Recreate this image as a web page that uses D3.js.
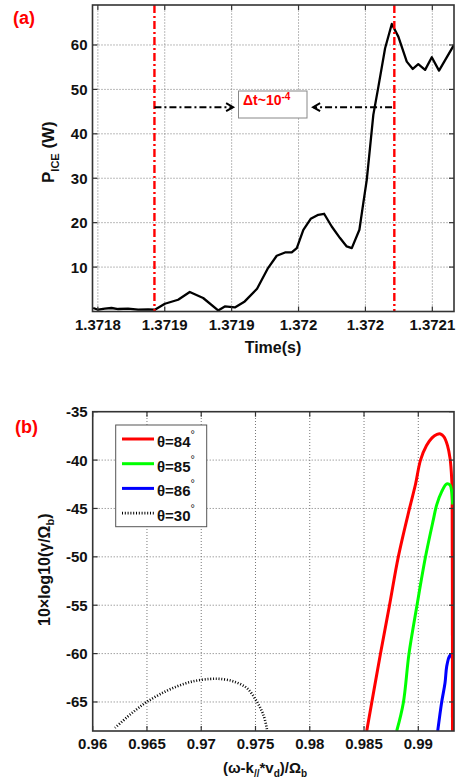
<!DOCTYPE html>
<html><head><meta charset="utf-8">
<script src="https://cdn.jsdelivr.net/npm/d3@7/dist/d3.min.js"></script>
<style>
body{margin:0;background:#fff;}
svg text{font-family:Arial,"Liberation Sans",sans-serif;font-weight:bold;}
</style></head>
<body><svg id="c" width="462" height="782"></svg>
<script>
// ---------- Panel (a) data ----------
const timeA = [1.3717965,1.3718002,1.3718052,1.3718102,1.3718152,1.3718226,1.3718301,1.3718376,1.3718426,
 1.3718501,1.3718600,1.3718687,1.3718787,1.3718899,1.3718949,1.3719024,1.3719098,1.3719190,1.3719272,
 1.3719337,1.3719399,1.3719449,1.3719487,1.3719536,1.3719591,1.3719648,1.3719691,1.3719748,1.3719810,
 1.3719860,1.3719898,1.3719955,1.3719984,1.3720010,1.3720059,1.3720097,1.3720147,1.3720197,1.3720246,
 1.3720309,1.3720354,1.3720395,1.3720446,1.3720496,1.3720550,1.3720662];
const powerA = [0.79,0.40,0.63,0.79,0.56,0.63,0.40,0.47,0.40,
 1.75,2.65,4.39,3.04,0.25,1.15,0.92,2.27,5.13,9.78,
 12.55,13.29,13.29,14.28,18.40,20.87,21.77,22.0,19.14,16.53,
 14.64,14.28,18.40,24.40,29.64,44.26,50.63,59.27,64.73,61.88,
 56.25,54.61,55.67,54.39,57.24,54.23,60.01];
const markerTimes = [1.3718423, 1.3720216];
const arrowY = 46;
const arrowLeft = [1.3718423, 1.3719011];
const arrowRight = [1.3720199, 1.3719609];
const xTicksA = [1.37180,1.37185,1.37190,1.37195,1.37200,1.37205];
const xTickLabelsA = ["1.3718","1.3719","1.3719","1.372","1.372","1.3721"];
const yTicksA = [10,20,30,40,50,60];

// ---------- Panel (b) data ----------
const x84 = [0.985247,0.986518,0.987348,0.988158,0.98919,0.989743,0.990204,0.990757,0.991263,0.991724,0.992047,0.992369,0.992692,0.992922,0.993078,0.993134,0.99315];
const y84 = [-68,-60,-55,-50,-45,-42.5,-40,-38.5,-37.7,-37.35,-37.3,-37.6,-38.5,-39.8,-41.9,-44.6,-68];
const x85 = [0.988011,0.988619,0.989144,0.989881,0.990664,0.991383,0.991696,0.992157,0.992618,0.992922,0.993078,0.99317,0.99324,0.99338];
const y85 = [-68,-65.1,-60,-55,-50,-46.18,-44.63,-43.26,-42.46,-42.57,-43.26,-44.63,-47.2,-54.4];
const x86 = [0.991789,0.992157,0.992461,0.992618,0.992857,0.993014,0.99316,0.99335];
const y86 = [-68,-65,-63.04,-61.32,-60.29,-60.12,-60.63,-66];
const x30 = [0.962055,0.963133,0.964054,0.964976,0.966201,0.96774,0.969269,0.970808,0.97173,0.972955,0.97419,0.975111,0.975719,0.976032,0.97606];
const y30 = [-67.68,-66.6,-65.75,-65,-64.2,-63.4,-62.86,-62.62,-62.62,-62.87,-63.55,-64.94,-66.31,-67.68,-68];
const xTicksB = [0.96,0.965,0.97,0.975,0.98,0.985,0.99];
const xTickLabelsB = ["0.96","0.965","0.97","0.975","0.98","0.985","0.99"];
const yTicksB = [-35,-40,-45,-50,-55,-60,-65];
const legendLabels = ["84","85","86","30"];
const seriesColors = ["#ff0000","#00ff00","#0000ff","#000000"];

const svg = d3.select("#c");
const AX = "#333";

function frame(g, x, y, yGrid, xGrid) {
  const [x0,x1] = x.range(), [y0,y1] = y.range();
  g.selectAll(".gx").data(xGrid).enter().append("line")
    .attr("x1",d=>x(d)).attr("x2",d=>x(d)).attr("y1",y0).attr("y2",y1)
    .attr("stroke","#777").attr("stroke-width",1).attr("stroke-dasharray","1,2");
  g.selectAll(".gy").data(yGrid).enter().append("line")
    .attr("y1",d=>y(d)).attr("y2",d=>y(d)).attr("x1",x0).attr("x2",x1)
    .attr("stroke","#777").attr("stroke-width",1).attr("stroke-dasharray","1,2");
}
function border(g, x, y, xt, xtl, yt) {
  const [x0,x1] = x.range(), [y0,y1] = y.range();
  const tl = 5;
  xt.forEach(d=>{
    g.append("line").attr("x1",x(d)).attr("x2",x(d)).attr("y1",y0).attr("y2",y0-tl).attr("stroke",AX).attr("stroke-width",1.2);
    g.append("line").attr("x1",x(d)).attr("x2",x(d)).attr("y1",y1).attr("y2",y1+tl).attr("stroke",AX).attr("stroke-width",1.2);
  });
  yt.forEach(d=>{
    g.append("line").attr("y1",y(d)).attr("y2",y(d)).attr("x1",x0).attr("x2",x0+tl).attr("stroke",AX).attr("stroke-width",1.2);
    g.append("line").attr("y1",y(d)).attr("y2",y(d)).attr("x1",x1).attr("x2",x1-tl).attr("stroke",AX).attr("stroke-width",1.2);
  });
  g.append("rect").attr("x",x0).attr("y",y1).attr("width",x1-x0).attr("height",y0-y1)
    .attr("fill","none").attr("stroke",AX).attr("stroke-width",1.6);
  xt.forEach((d,i)=>{
    g.append("text").attr("x",x(d)).attr("y",y0+18).attr("text-anchor","middle")
      .attr("font-size",15).attr("fill","#111").text(xtl[i]);
  });
  yt.forEach(d=>{
    g.append("text").attr("x",x0-5).attr("y",y(d)+5.5).attr("text-anchor","end")
      .attr("font-size",15).attr("fill","#111").text(d);
  });
}

// ---------- Panel (a) ----------
const xA = d3.scaleLinear().domain([1.371796, 1.3720662]).range([92.5, 454]);
const yA = d3.scaleLinear().domain([0, 69]).range([311.5, 5]);
const gA = svg.append("g");
frame(gA, xA, yA, yTicksA, xTicksA);
svg.append("clipPath").attr("id","clipA").append("rect")
  .attr("x",92.5).attr("y",5).attr("width",454-92.5).attr("height",311.5-5);
svg.append("clipPath").attr("id","clipB").append("rect")
  .attr("x",92.7).attr("y",411.7).attr("width",454-92.7).attr("height",731-411.7);

const lineA = d3.line().x((d,i)=>xA(timeA[i])).y(d=>yA(d));
gA.append("path").datum(powerA).attr("d",lineA).attr("fill","none")
  .attr("stroke","#000").attr("stroke-width",2.3).attr("stroke-linejoin","round")
  .attr("clip-path","url(#clipA)");

markerTimes.forEach(t=>{
  gA.append("line").attr("x1",xA(t)).attr("x2",xA(t)).attr("y1",yA(69)).attr("y2",yA(0))
    .attr("stroke","#ff0000").attr("stroke-width",2.4).attr("stroke-dasharray","8,3,2,3");
});
function arrow(a, b) {
  gA.append("line").attr("x1",xA(a)).attr("x2",xA(b)).attr("y1",yA(arrowY)).attr("y2",yA(arrowY))
    .attr("stroke","#000").attr("stroke-width",2).attr("stroke-dasharray","7,3,2,3");
  const dir = b > a ? 1 : -1;
  const hx = xA(b), hy = yA(arrowY);
  gA.append("path").attr("d",`M${hx-dir*7},${hy-4}L${hx},${hy}L${hx-dir*7},${hy+4}`)
    .attr("fill","none").attr("stroke","#000").attr("stroke-width",2);
}
arrow(arrowLeft[0], arrowLeft[1]);
arrow(arrowRight[0], arrowRight[1]);
gA.append("rect").attr("x",238.5).attr("y",91).attr("width",68.5).attr("height",27)
  .attr("fill","#fff").attr("stroke","#888").attr("stroke-width",1);
const dt = gA.append("text").attr("x",243).attr("y",105).attr("fill","#ff0000").attr("font-size",14);
dt.append("tspan").text("\u0394t~10");
dt.append("tspan").attr("dy",-5).attr("font-size",10).text("-4");

border(gA, xA, yA, xTicksA, xTickLabelsA, yTicksA);

svg.append("text").attr("x",13).attr("y",24).attr("fill","#ff0000").attr("font-size",18).text("(a)");
const yla = svg.append("text").attr("transform","translate(54,183) rotate(-90)").attr("font-size",17).attr("fill","#111");
yla.append("tspan").text("P");
yla.append("tspan").attr("dy",5).attr("font-size",11).text("ICE");
yla.append("tspan").attr("dy",-5).text(" (W)");
svg.append("text").attr("x",273).attr("y",353).attr("text-anchor","middle").attr("font-size",16).attr("fill","#111").text("Time(s)");

// ---------- Panel (b) ----------
const xB = d3.scaleLinear().domain([0.96, 0.99329]).range([92.7, 454]);
const yB = d3.scaleLinear().domain([-68, -35]).range([731, 411.7]);
const gB = svg.append("g");
frame(gB, xB, yB, yTicksB.slice(1), xTicksB.slice(1));

const smooth = d3.line().x(d=>xB(d[0])).y(d=>yB(d[1])).curve(d3.curveCatmullRom.alpha(0.5));
const series = [[x84,y84],[x85,y85],[x86,y86],[x30,y30]];
series.forEach((s,k)=>{
  const pts = s[0].map((v,i)=>[v, s[1][i]]);
  const p = gB.append("path").datum(pts).attr("d", smooth)
    .attr("fill","none").attr("stroke",seriesColors[k]).attr("clip-path","url(#clipB)")
    .attr("stroke-linejoin","round");
  if (k===3) p.attr("stroke-width",2.6).attr("stroke-dasharray","1,1.8");
  else p.attr("stroke-width",3);
});
gB.append("path").datum([[x84[15],y84[15]],[x84[16],y84[16]]])
  .attr("d", d3.line().x(d=>xB(d[0])).y(d=>yB(d[1])))
  .attr("fill","none").attr("stroke","#ff0000").attr("stroke-width",3).attr("clip-path","url(#clipB)");

border(gB, xB, yB, xTicksB, xTickLabelsB, yTicksB);

const lg = svg.append("g");
lg.append("rect").attr("x",115.7).attr("y",425).attr("width",91).attr("height",101.7)
  .attr("fill","#fff").attr("stroke","#555").attr("stroke-width",1);
legendLabels.forEach((lab,k)=>{
  const ly = 439 + k*24.7;
  const l = lg.append("line").attr("x1",122).attr("x2",154).attr("y1",ly).attr("y2",ly)
    .attr("stroke",seriesColors[k]);
  if (k===3) l.attr("stroke-width",2.6).attr("stroke-dasharray","1,1.8");
  else l.attr("stroke-width",3);
  const t = lg.append("text").attr("x",157).attr("y",ly+8).attr("font-size",15).attr("fill","#111");
  t.append("tspan").text("\u03b8=" + lab);
  t.append("tspan").attr("dy",-9).attr("font-size",11).attr("font-weight","normal").text("\u00b0");
});

svg.append("text").attr("x",15).attr("y",433).attr("fill","#ff0000").attr("font-size",18).text("(b)");
const ylb = svg.append("text").attr("transform","translate(50,626) rotate(-90)").attr("font-size",16).attr("fill","#111");
ylb.append("tspan").text("10\u00d7log10(\u03b3/\u03a9");
ylb.append("tspan").attr("dy",4).attr("font-size",11).text("b");
ylb.append("tspan").attr("dy",-4).text(")");
const xlb = svg.append("text").attr("x",265).attr("y",773).attr("text-anchor","middle").attr("font-size",15).attr("fill","#111");
xlb.append("tspan").text("(\u03c9-k");
xlb.append("tspan").attr("dy",4).attr("font-size",10).text("//");
xlb.append("tspan").attr("dy",-4).text("*v");
xlb.append("tspan").attr("dy",4).attr("font-size",10).text("d");
xlb.append("tspan").attr("dy",-4).text(")/\u03a9");
xlb.append("tspan").attr("dy",4).attr("font-size",10).text("b");
</script></body></html>
